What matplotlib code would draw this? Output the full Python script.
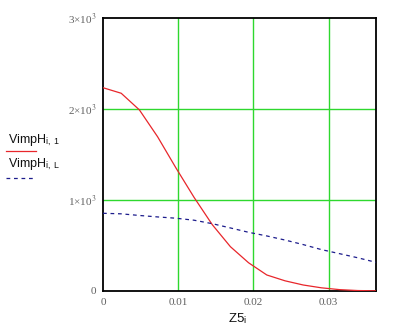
import matplotlib
matplotlib.use("Agg")
import matplotlib.pyplot as plt
from matplotlib.lines import Line2D

plt.rcParams['mathtext.fontset'] = 'stix'

z5 = [0.0, 0.00242, 0.00484, 0.00726, 0.00968, 0.0121, 0.01452, 0.01694,
      0.01936, 0.02178, 0.0242, 0.02662, 0.02904, 0.03146, 0.03388, 0.0363]
vimp_1 = [2234, 2173, 1990, 1695, 1355, 1030, 730, 487,
          310, 176, 112, 66, 35, 15, 5, 2]
vimp_L = [854, 848, 830, 814, 800, 778, 740, 693,
          645, 605, 560, 510, 455, 410, 365, 315]

xticks = [0, 0.01, 0.02, 0.03]
xtick_labels = ["0", "0.01", "0.02", "0.03"]
yticks = [0, 1000, 2000, 3000]
ytick_labels = ["0", "1×10$^{3}$", "2×10$^{3}$", "3×10$^{3}$"]

fig = plt.figure(figsize=(4.0, 3.31), dpi=100)
ax = fig.add_axes([103/400, 1 - 291/331, 273/400, 273/331])

ax.plot(z5, vimp_1, color='#e8262b', lw=0.9, zorder=3)
ax.plot(z5, vimp_L, color='#1c1c8c', lw=0.9, ls=(0, (3, 3)), zorder=3)

ax.set_xlim(0, 0.0363)
ax.set_ylim(0, 3000)
ax.set_xticks(xticks)
ax.set_xticklabels(xtick_labels)
ax.set_yticks(yticks)
ax.set_yticklabels(ytick_labels)
ax.tick_params(length=0, pad=5, labelsize=8, labelcolor='#606060')
for lab in ax.get_xticklabels() + ax.get_yticklabels():
    lab.set_family('Liberation Serif')

for v in [0.01, 0.02, 0.03]:
    ax.axvline(v, color='#2ed82e', lw=1.0, zorder=1)
for v in [1000, 2000]:
    ax.axhline(v, color='#2ed82e', lw=1.0, zorder=1)

for s in ax.spines.values():
    s.set_color('black')
    s.set_linewidth(1.3)

fig.text(0.595, 1 - 322/331, "Z5$_\\mathregular{i}$", ha='center', va='baseline',
         fontsize=9.5, family='Liberation Sans', color='#111111')

fig.text(8/400, 1 - 143/331, "VimpH$_\\mathregular{i,\\ 1}$", ha='left', va='baseline',
         fontsize=9, family='Liberation Sans', color='#111111')
fig.add_artist(Line2D([6/400, 36/400], [1 - 151/331, 1 - 151/331],
                      color='#e8262b', lw=0.9))
fig.text(8/400, 1 - 167/331, "VimpH$_\\mathregular{i,\\ L}$", ha='left', va='baseline',
         fontsize=9, family='Liberation Sans', color='#111111')
fig.add_artist(Line2D([6/400, 36/400], [1 - 178/331, 1 - 178/331],
                      color='#1c1c8c', lw=0.9, ls=(0, (3, 3))))

fig.savefig("out.png", dpi=100)
